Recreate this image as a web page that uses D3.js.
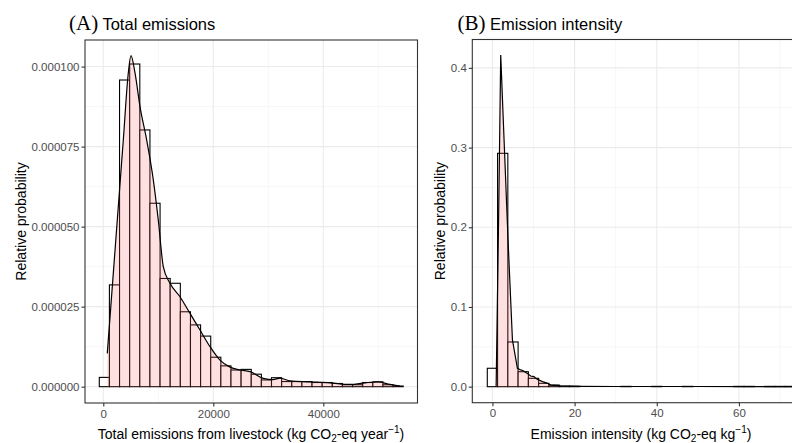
<!DOCTYPE html>
<html>
<head>
<meta charset="utf-8">
<script src="https://cdn.jsdelivr.net/npm/d3@7"></script>
<style>
  html, body { margin: 0; padding: 0; background: #fff; }
  svg { display: block; }
</style>
</head>
<body>
<svg id="chart" width="792" height="443"></svg>
<script>
// ---------- Panel A data: total emissions ----------
const binStartA = -730;
const binWidthA = 1842;
const barsA = [0.0000029, 0.0000318, 0.0000958, 0.0001008, 0.0000802, 0.0000573, 0.0000338, 0.0000323,
  0.0000234, 0.0000193, 0.0000158, 0.0000092, 0.0000065, 0.0000052, 0.0000054, 0.0000039,
  0.0000021, 0.0000028, 0.0000016, 0.0000016, 0.0000016, 0.0000013, 0.0000013, 0.0000010,
  0.0000006, 0.0000006, 0.0000013, 0.0000015, 0.0000006, 0.0000002];
const densXA = [727, 1818, 2909, 3636, 4545, 5036, 5764, 6673, 7891, 9091, 10000, 10909, 12127,
  13945, 15764, 17582, 19400, 21218, 23036, 24855, 26673, 29091, 30855, 32127, 33945, 37582,
  41218, 44855, 47582, 49945, 52127, 53945];
const densYA = [0.0000104, 0.0000354, 0.0000604, 0.0000770, 0.0000980, 0.0001034, 0.0000980, 0.0000875,
  0.0000770, 0.0000646, 0.0000520, 0.0000375, 0.0000323, 0.0000281, 0.0000229, 0.0000177,
  0.0000125, 0.0000083, 0.0000061, 0.0000052, 0.0000047, 0.0000026, 0.0000022, 0.0000027,
  0.0000018, 0.0000015, 0.0000012, 0.0000007, 0.0000012, 0.0000015, 0.0000007, 0.0000002];
const yTicksA = [0, 0.000025, 0.00005, 0.000075, 0.0001];
const yTickLabelsA = ["0.000000", "0.000025", "0.000050", "0.000075", "0.000100"];
const xTicksA = [0, 20000, 40000];
const xMinorA = [10000, 30000, 50000];
const yMinorA = [0.0000125, 0.0000375, 0.0000625, 0.0000875];

// ---------- Panel B data: emission intensity ----------
const binStartB = -1.25;
const binWidthB = 2.5;
const barsB = [0.0231, 0.2928, 0.0561, 0.0188, 0.0105, 0.0042, 0.0021, 0.0006, 0.0005, 0, 0, 0, 0,
  0.0004, 0, 0, 0.0004, 0, 0, 0.0004, 0, 0, 0, 0, 0.0004, 0.0004, 0, 0.0004, 0.0004, 0.0004];
const densXB = [0.9, 1.5, 2.02, 2.5, 3.8, 4.87, 6.08, 6.9, 7.5, 8.5, 9.3, 10.1, 10.9, 12.2, 13.4,
  14.2, 16.6, 21.5, 30, 50, 74];
const densYB = [0, 0.21, 0.416, 0.353, 0.184, 0.0586, 0.023, 0.021, 0.02, 0.0167, 0.0134, 0.0126,
  0.0092, 0.0063, 0.0042, 0.002, 0.0009, 0.0005, 0.0002, 0.0002, 0.0001];
const yTicksB = [0, 0.1, 0.2, 0.3, 0.4];
const yTickLabelsB = ["0.0", "0.1", "0.2", "0.3", "0.4"];
const xTicksB = [0, 20, 40, 60, 80];
const xMinorB = [10, 30, 50, 70];
const yMinorB = [0.05, 0.15, 0.25, 0.35];

const svg = d3.select("#chart");
const FONT = "'Liberation Sans', Arial, sans-serif";

function drawPanel(opt) {
  const { left, right, top, bottom, xDomain, yDomain } = opt;
  const x = d3.scaleLinear().domain(xDomain).range([left, right]);
  const y = d3.scaleLinear().domain(yDomain).range([bottom, top]);
  const g = svg.append("g");
  const clipId = "clip" + opt.id;
  svg.append("clipPath").attr("id", clipId)
    .append("rect").attr("x", left).attr("y", top).attr("width", right - left).attr("height", bottom - top);
  const inner = g.append("g").attr("clip-path", `url(#${clipId})`);

  // gridlines
  inner.selectAll(".gmx").data(opt.xMinor).join("line")
    .attr("x1", d => x(d)).attr("x2", d => x(d)).attr("y1", top).attr("y2", bottom)
    .attr("stroke", "#F0F0F0").attr("stroke-width", 0.6);
  inner.selectAll(".gmy").data(opt.yMinor).join("line")
    .attr("y1", d => y(d)).attr("y2", d => y(d)).attr("x1", left).attr("x2", right)
    .attr("stroke", "#F0F0F0").attr("stroke-width", 0.6);
  inner.selectAll(".gx").data(opt.xTicks).join("line")
    .attr("x1", d => x(d)).attr("x2", d => x(d)).attr("y1", top).attr("y2", bottom)
    .attr("stroke", "#EBEBEB").attr("stroke-width", 1.1);
  inner.selectAll(".gy").data(opt.yTicks).join("line")
    .attr("y1", d => y(d)).attr("y2", d => y(d)).attr("x1", left).attr("x2", right)
    .attr("stroke", "#EBEBEB").attr("stroke-width", 1.1);

  // histogram bars
  const bars = opt.bars.map((v, i) => ({ x0: opt.binStart + i * opt.binWidth, x1: opt.binStart + (i + 1) * opt.binWidth, v }));
  inner.selectAll(".bar").data(bars).join("rect")
    .attr("x", d => x(d.x0)).attr("width", d => x(d.x1) - x(d.x0))
    .attr("y", d => y(d.v)).attr("height", d => y(0) - y(d.v))
    .attr("fill", "#ffffff").attr("stroke", "#000").attr("stroke-width", 1.1);

  // density
  const dens = opt.densX.map((v, i) => [v, opt.densY[i]]);
  const area = d3.area().x(d => x(d[0])).y0(y(0)).y1(d => y(d[1])).curve(opt.curve);
  const line = d3.line().x(d => x(d[0])).y(d => y(d[1])).curve(opt.curve);
  inner.append("path").datum(dens).attr("d", area).attr("fill", "#FF6666").attr("fill-opacity", 0.2);
  inner.append("path").datum(dens).attr("d", line).attr("fill", "none").attr("stroke", "#000").attr("stroke-width", 1.2);

  // border
  g.append("rect").attr("x", left).attr("y", top).attr("width", right - left).attr("height", bottom - top)
    .attr("fill", "none").attr("stroke", "#333333").attr("stroke-width", 1.1);

  // y axis
  const yAxis = d3.axisLeft(y).tickValues(opt.yTicks).tickSize(3.5).tickPadding(2)
    .tickFormat((d, i) => opt.yTickLabels[i]);
  const ya = g.append("g").attr("transform", `translate(${left},0)`).call(yAxis);
  ya.select(".domain").remove();
  ya.selectAll(".tick line").attr("stroke", "#333333").attr("stroke-width", 1.1);
  ya.selectAll(".tick text").attr("fill", "#4D4D4D").style("font-family", FONT).style("font-size", "11.5px");

  // x axis
  const xt = opt.xTicks.filter(d => x(d) <= right);
  const xAxis = d3.axisBottom(x).tickValues(xt).tickSize(3.5).tickPadding(3).tickFormat(d3.format("d"));
  const xa = g.append("g").attr("transform", `translate(0,${bottom})`).call(xAxis);
  xa.select(".domain").remove();
  xa.selectAll(".tick line").attr("stroke", "#333333").attr("stroke-width", 1.1);
  xa.selectAll(".tick text").attr("fill", "#4D4D4D").style("font-family", FONT).style("font-size", "11.5px");

  // axis titles
  g.append("text").attr("transform", `translate(${opt.yTitleX},${(top + bottom) / 2}) rotate(-90)`)
    .attr("text-anchor", "middle").style("font-family", FONT).style("font-size", "14px").attr("fill", "#000")
    .text("Relative probability");
  const xt2 = g.append("text").attr("x", opt.xTitleX).attr("y", 439)
    .attr("text-anchor", "middle").style("font-family", FONT).style("font-size", "14px").attr("fill", "#000");
  xt2.append("tspan").text(opt.xTitle[0]);
  xt2.append("tspan").text("2").attr("dy", 3).style("font-size", "10px");
  xt2.append("tspan").text(opt.xTitle[1]).attr("dy", -3);
  xt2.append("tspan").text("−1").attr("dy", -6).style("font-size", "10px");
  xt2.append("tspan").text(")").attr("dy", 6);

  // panel title
  const tt = g.append("text").attr("x", opt.titleX).attr("y", 30).attr("fill", "#000");
  tt.append("tspan").text(opt.tag).style("font-family", "'Liberation Serif', 'DejaVu Serif', serif")
    .style("font-size", "21px");
  tt.append("tspan").text(" " + opt.title).style("font-family", FONT).style("font-size", "16.5px");
}

drawPanel({
  id: "A", left: 85, right: 417.5, top: 40, bottom: 403,
  xDomain: [-3327, 57127], yDomain: [-0.0000051, 0.0001083],
  bars: barsA, binStart: binStartA, binWidth: binWidthA,
  densX: densXA, densY: densYA, curve: d3.curveMonotoneX,
  xTicks: xTicksA, xMinor: xMinorA, yTicks: yTicksA, yMinor: yMinorA, yTickLabels: yTickLabelsA,
  yTitleX: 26, xTitleX: 251, xTitle: ["Total emissions from livestock (kg CO", "-eq year"],
  titleX: 69, tag: "(A)", title: "Total emissions"
});

drawPanel({
  id: "B", left: 472.3, right: 810, top: 39.5, bottom: 402.7,
  xDomain: [-4.9, 77.3], yDomain: [-0.0201, 0.4356],
  bars: barsB, binStart: binStartB, binWidth: binWidthB,
  densX: densXB, densY: densYB, curve: d3.curveLinear,
  xTicks: xTicksB, xMinor: xMinorB, yTicks: yTicksB, yMinor: yMinorB, yTickLabels: yTickLabelsB,
  yTitleX: 445, xTitleX: 641, xTitle: ["Emission intensity (kg CO", "-eq kg"],
  titleX: 457.5, tag: "(B)", title: "Emission intensity"
});
</script>
</body>
</html>
